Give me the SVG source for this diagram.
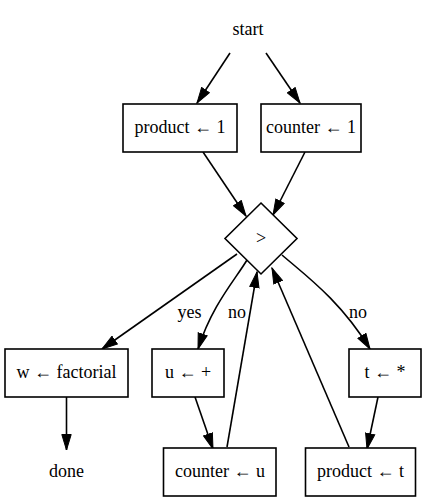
<svg xmlns="http://www.w3.org/2000/svg" width="426" height="501" viewBox="0 0 426 501">
<style>
.n{fill:#fff;stroke:#000;stroke-width:1.6}
.t{font-family:"Liberation Serif","Times New Roman",serif;font-size:18px;text-anchor:middle;fill:#000}
.e{fill:none;stroke:#000;stroke-width:1.6;marker-end:url(#a)}
</style>
<defs>
<marker id="a" markerUnits="userSpaceOnUse" markerWidth="17" markerHeight="11" refX="16" refY="5.5" orient="auto" viewBox="0 0 17 11">
<path d="M0.5,0.8 L16,5.5 L0.5,10.2 Z" fill="#000" stroke="#000" stroke-width="1"/>
</marker>
</defs>
<rect width="426" height="501" fill="#fff"/>
<g id="connectors">
<path class="e" d="M230,53 L197,103"/>
<path class="e" d="M266,53 L300,103"/>
<path class="e" d="M203,152 L246,216"/>
<path class="e" d="M305,152 L273,215"/>
<path class="e" d="M237,254 L102,349"/>
<path class="e" d="M247,260 C235,280 212,305 198,349"/>
<path class="e" d="M282,255 C305,275 340,300 370,349"/>
<path class="e" d="M227,447 L257,272"/>
<path class="e" d="M349,447 L272,268"/>
<path class="e" d="M66.5,397 L66.5,450"/>
<path class="e" d="M195,397 L213,449"/>
<path class="e" d="M378,397 L367,449"/>
<text class="t" x="189.5" y="318">yes</text>
<text class="t" x="237" y="318">no</text>
<text class="t" x="358" y="318">no</text>
</g>
<g id="start"><text class="t" x="248" y="35">start</text></g>
<g id="product1"><rect class="n" x="123" y="104" width="114" height="48"/><text class="t" x="180" y="133">product ← 1</text></g>
<g id="counter1"><rect class="n" x="261" y="104" width="100" height="48"/><text class="t" x="311" y="133">counter ← 1</text></g>
<g id="cmp"><polygon class="n" points="261,203 297,238.5 261,274 225,238.5"/><text class="t" x="261" y="244">&gt;</text></g>
<g id="w"><rect class="n" x="5" y="349" width="123" height="48"/><text class="t" x="66.5" y="378">w ← factorial</text></g>
<g id="u"><rect class="n" x="152" y="349" width="72" height="48"/><text class="t" x="188" y="378">u ← +</text></g>
<g id="t"><rect class="n" x="349" y="349" width="72" height="48"/><text class="t" x="385" y="378">t ← *</text></g>
<g id="done"><text class="t" x="66.5" y="477">done</text></g>
<g id="counteru"><rect class="n" x="163.5" y="448" width="112.5" height="48"/><text class="t" x="220" y="477">counter ← u</text></g>
<g id="productt"><rect class="n" x="305.5" y="448" width="110" height="48"/><text class="t" x="360.5" y="477">product ← t</text></g>
</svg>
